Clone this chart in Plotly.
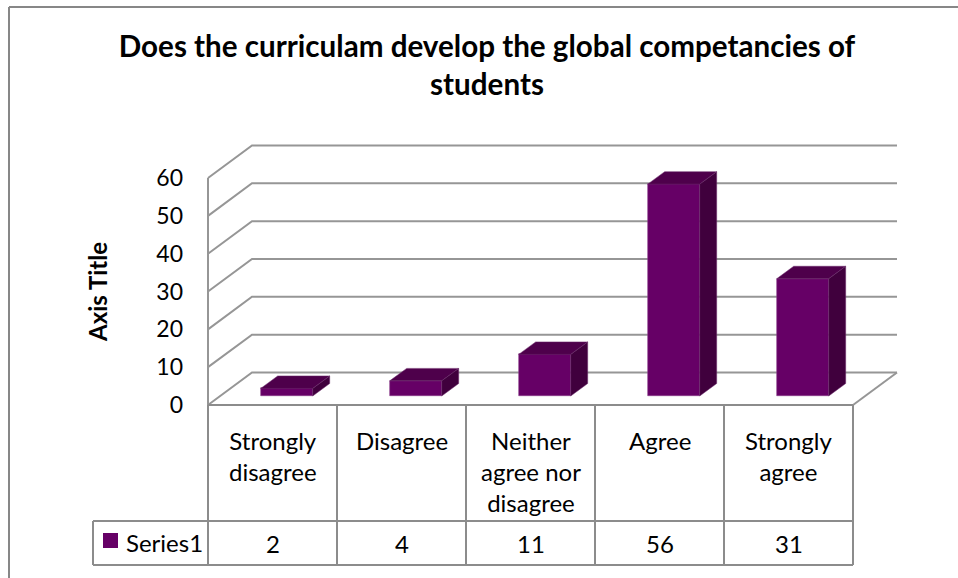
import plotly.graph_objects as go

# ---- data ----
categories = ["Strongly<br>disagree", "Disagree", "Neither<br>agree nor<br>disagree", "Agree", "Strongly<br>agree"]
values = [2, 4, 11, 56, 31]
series_name = "Series1"
y_ticks = [0, 10, 20, 30, 40, 50, 60]
title_text = "Does the curriculam develop the global competancies of<br>students"
axis_title = "Axis Title"

# ---- layout constants (pixel geometry, reference-image px) ----
W, H = 958, 578
L, R, T, B = 88, 905, 140, 570            # plot area in px
X0, CW = 208, 129                         # front-left x px, column width px
Y0, PPU = 405, 3.783                      # y px of value 0 (front plane), px per unit

def ux(p):
    return (p - X0) / CW

def vy(p):
    return (Y0 - p) / PPU

n = len(values)
DX, DY = 44 / CW, 8.6                     # depth of the 3D box
BAR_W = 52 / CW
BAR_SHIFT = 0.11
BAR_BASE = 2.38
BDX, BDY = 17 / CW, 3.3                   # bar depth

FRONT = "#660066"
TOP = "#4e004b"
SIDE = "#40003d"
GRID = "#969696"
TABLE = "#8c8c8c"
FONT = "Lato, Carlito, Calibri, sans-serif"
FS = 24

fig = go.Figure()

# front faces of bars
centers = [i + 0.5 + BAR_SHIFT for i in range(n)]
fig.add_trace(go.Bar(
    x=centers, y=values, base=BAR_BASE, width=BAR_W,
    marker=dict(color=FRONT, line=dict(color="#8a3a8a", width=0.6)),
    name=series_name, showlegend=False, hoverinfo="skip",
))

# top and side faces
for c, v in zip(centers, values):
    l, r = c - BAR_W / 2, c + BAR_W / 2
    top = BAR_BASE + v
    fig.add_trace(go.Scatter(
        x=[l, r, r + BDX, l + BDX, l], y=[top, top, top + BDY, top + BDY, top],
        fill="toself", fillcolor=TOP, mode="lines", line=dict(width=0.5, color="#6a2a6a"),
        showlegend=False, hoverinfo="skip"))
    fig.add_trace(go.Scatter(
        x=[r, r + BDX, r + BDX, r, r], y=[BAR_BASE, BAR_BASE + BDY, top + BDY, top, BAR_BASE],
        fill="toself", fillcolor=SIDE, mode="lines", line=dict(width=0.5, color="#6a2a6a"),
        showlegend=False, hoverinfo="skip"))

shapes = []
# 3D gridlines (left wall + back wall)
for t in y_ticks:
    shapes.append(dict(type="path", xref="x", yref="y", layer="below",
                       path=f"M 0,{t} L {DX},{t + DY} L {n + DX},{t + DY}",
                       line=dict(color=GRID, width=2)))
# left wall front edge
shapes.append(dict(type="line", xref="x", yref="y", layer="below",
                   x0=0, y0=y_ticks[-1], x1=0, y1=0, line=dict(color=GRID, width=2)))
# floor right edge
shapes.append(dict(type="line", xref="x", yref="y", layer="below",
                   x0=n, y0=0, x1=n + DX, y1=DY, line=dict(color=GRID, width=2)))

# data table
row1 = vy(521)
row2 = vy(565)
labx = ux(93)
tl = dict(color=TABLE, width=2)
shapes.append(dict(type="line", xref="x", yref="y", x0=0, y0=0, x1=n, y1=0, line=tl))
shapes.append(dict(type="line", xref="x", yref="y", x0=labx, y0=row1, x1=n, y1=row1, line=tl))
shapes.append(dict(type="line", xref="x", yref="y", x0=labx, y0=row2, x1=n, y1=row2, line=tl))
shapes.append(dict(type="line", xref="x", yref="y", x0=labx, y0=row1, x1=labx, y1=row2, line=tl))
for i in range(n + 1):
    shapes.append(dict(type="line", xref="x", yref="y", x0=i, y0=0, x1=i, y1=row2, line=tl))
# legend key
shapes.append(dict(type="rect", xref="x", yref="y", x0=ux(103), x1=ux(118), y0=vy(548), y1=vy(533),
                   fillcolor=FRONT, line=dict(width=0)))

# chart area border (left and top edges visible)
pw, ph = R - L, B - T
def px_paper(p):
    return (p - L) / pw
def py_paper(p):
    return (B - p) / ph
border = dict(color="#878787", width=2)
shapes.append(dict(type="line", xref="paper", yref="paper",
                   x0=px_paper(9), y0=py_paper(7), x1=px_paper(9), y1=py_paper(600), line=border))
shapes.append(dict(type="line", xref="paper", yref="paper",
                   x0=px_paper(9), y0=py_paper(7), x1=px_paper(970), y1=py_paper(7), line=border))

annotations = []
for i, cat in enumerate(categories):
    annotations.append(dict(x=i + 0.5, y=vy(424), xref="x", yref="y", text=cat,
                            showarrow=False, yanchor="top", xanchor="center",
                            font=dict(family=FONT, size=FS, color="#000")))
for i, v in enumerate(values):
    annotations.append(dict(x=i + 0.5, y=vy(543), xref="x", yref="y", text=str(v),
                            showarrow=False, yanchor="middle", xanchor="center",
                            font=dict(family=FONT, size=FS, color="#000")))
annotations.append(dict(x=ux(124), y=vy(542), xref="x", yref="y", text=series_name,
                        showarrow=False, yanchor="middle", xanchor="left",
                        font=dict(family=FONT, size=FS, color="#000")))
# axis title, centred on the 3D wall
annotations.append(dict(x=px_paper(97), y=py_paper(292), xref="paper", yref="paper",
                        text=f"<b>{axis_title}</b>", textangle=-90, showarrow=False,
                        xanchor="center", yanchor="middle",
                        font=dict(family=FONT, size=FS, color="#000")))

fig.update_layout(
    width=W, height=H,
    margin=dict(l=L, r=W - R, t=T, b=H - B, pad=0),
    paper_bgcolor="white", plot_bgcolor="white",
    title=dict(text=f"<b>{title_text}</b>", x=487 / W, xanchor="center",
               y=1 - 57 / H, yanchor="top", yref="container",
               font=dict(family=FONT, size=29.6, color="#000")),
    xaxis=dict(range=[ux(L), ux(R)], visible=False, fixedrange=True),
    yaxis=dict(range=[vy(B), vy(T)], anchor="free", position=px_paper(X0),
               tickvals=y_ticks, ticks="", showgrid=False, zeroline=False, showline=False,
               ticklabelstandoff=25,
               tickfont=dict(family=FONT, size=23, color="#000"),
               fixedrange=True),
    shapes=shapes, annotations=annotations,
    bargap=0, showlegend=False,
)

fig.write_html("out.html", config={"displayModeBar": False},
               post_script="document.body.style.margin='0';")
